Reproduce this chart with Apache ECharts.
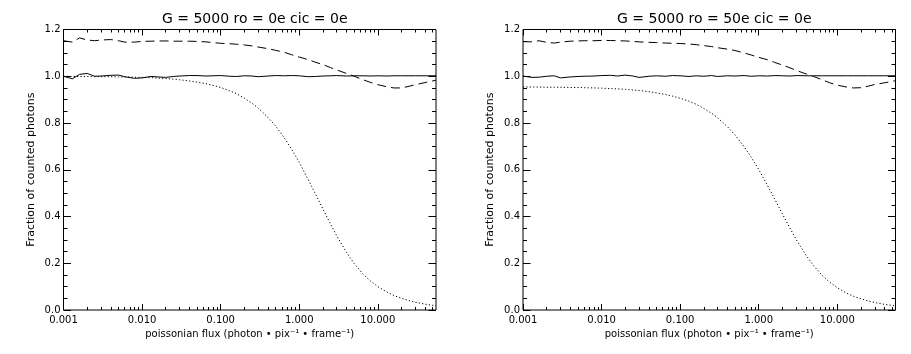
<!DOCTYPE html>
<html>
<head>
<meta charset="utf-8">
<script src="https://cdn.jsdelivr.net/npm/echarts@6/dist/echarts.min.js"></script>
<style>
  html, body { margin: 0; padding: 0; background: #fff; }
  #chart { width: 911px; height: 354px; }
</style>
</head>
<body>
<div id="chart"></div>
<script>
// poissonian flux sample points (photon / pix / frame)
const flux = [0.001, 0.0013, 0.0016, 0.002, 0.0025, 0.003, 0.004, 0.005, 0.006, 0.008,
  0.01, 0.013, 0.016, 0.02, 0.025, 0.03, 0.04, 0.05, 0.065, 0.08,
  0.1, 0.13, 0.16, 0.2, 0.25, 0.3, 0.4, 0.5, 0.65, 0.8,
  1, 1.3, 1.6, 2, 2.5, 3, 4, 5, 6.5, 8,
  10, 13, 16, 20, 25, 30, 40, 55];

// left panel: ro = 0e
const solidA = [1.000, 0.989, 1.008, 1.012, 1.000, 1.001, 1.004, 1.005, 0.998, 0.991,
  0.993, 0.999, 0.997, 0.995, 0.999, 1.001, 1.003, 1.003, 1.001, 1.002,
  1.003, 1.000, 0.999, 1.002, 1.001, 0.998, 1.001, 1.003, 1.002, 1.003,
  1.002, 0.998, 0.999, 1.001, 1.002, 1.003, 1.001, 1.002, 1.002, 1.001,
  1.002, 1.001, 1.002, 1.002, 1.002, 1.002, 1.002, 1.002];
const dashedA = [1.152, 1.146, 1.164, 1.155, 1.152, 1.155, 1.157, 1.152, 1.146, 1.146,
  1.149, 1.150, 1.151, 1.151, 1.150, 1.150, 1.150, 1.149, 1.147, 1.144,
  1.141, 1.139, 1.137, 1.134, 1.130, 1.125, 1.118, 1.111, 1.102, 1.092,
  1.082, 1.071, 1.060, 1.050, 1.037, 1.027, 1.012, 1.000, 0.985, 0.974,
  0.964, 0.955, 0.950, 0.950, 0.957, 0.964, 0.973, 0.983];
const dottedA = [1.000, 0.999, 0.999, 0.999, 0.998, 0.998, 0.998, 0.997, 0.997, 0.996,
  0.995, 0.994, 0.992, 0.990, 0.988, 0.985, 0.980, 0.975, 0.968, 0.961,
  0.952, 0.938, 0.925, 0.906, 0.885, 0.864, 0.824, 0.787, 0.735, 0.688,
  0.632, 0.558, 0.498, 0.432, 0.368, 0.317, 0.246, 0.199, 0.153, 0.125,
  0.100, 0.077, 0.062, 0.050, 0.040, 0.033, 0.025, 0.018];

// right panel: ro = 50e
const solidB = [1.001, 0.995, 0.996, 1.000, 1.002, 0.993, 0.997, 0.999, 1.000, 1.001,
  1.003, 1.004, 1.001, 1.005, 1.001, 0.995, 1.000, 1.002, 1.000, 1.003,
  1.002, 0.999, 1.002, 1.000, 1.003, 0.999, 1.002, 1.001, 1.003, 1.000,
  1.002, 1.001, 1.003, 1.002, 1.001, 1.003, 1.002, 1.002, 1.002, 1.002,
  1.002, 1.002, 1.002, 1.002, 1.002, 1.002, 1.002, 1.002];
const dashedB = [1.148, 1.147, 1.152, 1.145, 1.142, 1.146, 1.150, 1.151, 1.152, 1.152,
  1.153, 1.153, 1.152, 1.151, 1.149, 1.147, 1.145, 1.144, 1.142, 1.141,
  1.140, 1.138, 1.135, 1.131, 1.127, 1.122, 1.116, 1.110, 1.100, 1.091,
  1.081, 1.070, 1.059, 1.048, 1.036, 1.025, 1.010, 0.999, 0.984, 0.972,
  0.962, 0.954, 0.950, 0.951, 0.958, 0.965, 0.972, 0.981];
const dottedB = [0.954, 0.954, 0.954, 0.953, 0.953, 0.953, 0.952, 0.952, 0.951, 0.950,
  0.949, 0.947, 0.946, 0.944, 0.941, 0.939, 0.934, 0.929, 0.922, 0.915,
  0.906, 0.893, 0.880, 0.862, 0.842, 0.822, 0.784, 0.748, 0.699, 0.654,
  0.601, 0.531, 0.474, 0.411, 0.350, 0.301, 0.234, 0.189, 0.146, 0.119,
  0.095, 0.073, 0.059, 0.048, 0.038, 0.032, 0.024, 0.018];

const majorTicks = [0.001, 0.01, 0.1, 1, 10];
const minorTicks = [0.002, 0.003, 0.004, 0.005, 0.006, 0.007, 0.008, 0.009,
  0.02, 0.03, 0.04, 0.05, 0.06, 0.07, 0.08, 0.09,
  0.2, 0.3, 0.4, 0.5, 0.6, 0.7, 0.8, 0.9,
  2, 3, 4, 5, 6, 7, 8, 9, 20, 30, 40, 50];

const titles = ['G = 5000 ro = 0e cic = 0e', 'G = 5000 ro = 50e cic = 0e'];
const xName = 'poissonian flux (photon \u2022 pix\u207B\u00B9 \u2022 frame\u207B\u00B9)';
const yName = 'Fraction of counted photons';

const FONT = 'DejaVu Sans';
const INK = '#000';
const PLOT_LEFT = [63.5, 523];
const PLOT_W = 372.5;
const PLOT_TOP = 29.5;
const PLOT_H = 280.5;

const chart = echarts.init(document.getElementById('chart'));

const grids = [], xAxes = [], yAxes = [], series = [], titleOpts = [];
const panels = [
  { solid: solidA, dashed: dashedA, dotted: dottedA },
  { solid: solidB, dashed: dashedB, dotted: dottedB }
];

const txt = size => ({ fontFamily: FONT, fontSize: size, color: INK });

panels.forEach((p, i) => {
  grids.push({
    left: PLOT_LEFT[i], top: PLOT_TOP, width: PLOT_W, height: PLOT_H,
    show: true, borderColor: INK, borderWidth: 1, backgroundColor: 'transparent'
  });
  titleOpts.push({
    text: titles[i], left: PLOT_LEFT[i] + PLOT_W / 2, top: 7, textAlign: 'center',
    textStyle: Object.assign(txt(14), { fontWeight: 'normal' })
  });

  const logAxis = (position, ticks, len, extra) => Object.assign({
    type: 'log', logBase: 10, gridIndex: i, position: position,
    min: 0.001, max: 55,
    axisLine: { show: false }, splitLine: { show: false },
    axisTick: { inside: true, length: len, customValues: ticks, lineStyle: { color: INK } },
    axisLabel: { show: false }
  }, extra || {});

  xAxes.push(logAxis('bottom', majorTicks, 6, {
    axisLabel: Object.assign(txt(10), { customValues: majorTicks, margin: 5, formatter: v => v.toFixed(3) }),
    name: xName, nameLocation: 'middle', nameGap: 18, nameTextStyle: txt(10)
  }));
  xAxes.push(logAxis('bottom', minorTicks, 3));
  xAxes.push(logAxis('top', majorTicks, 6));
  xAxes.push(logAxis('top', minorTicks, 3));

  const valAxis = (position, extra) => Object.assign({
    type: 'value', gridIndex: i, position: position,
    min: 0, max: 1.2, interval: 0.2,
    axisLine: { show: false }, splitLine: { show: false },
    axisTick: { inside: true, length: 7.5, lineStyle: { color: INK } },
    minorTick: { show: true, splitNumber: 4, length: 4, lineStyle: { color: INK } },
    axisLabel: { show: false }
  }, extra || {});

  yAxes.push(valAxis('left', {
    axisLabel: Object.assign(txt(10), { margin: 3, formatter: v => v.toFixed(1) }),
    name: yName, nameLocation: 'middle', nameGap: 27, nameTextStyle: txt(11)
  }));
  yAxes.push(valAxis('right'));

  const styles = [
    { data: p.solid, type: 'solid' },
    { data: p.dashed, type: [9, 5] },
    { data: p.dotted, type: [1.2, 2.2] }
  ];
  styles.forEach(s => {
    series.push({
      type: 'line', xAxisIndex: i * 4, yAxisIndex: i * 2,
      data: flux.map((f, k) => [f, s.data[k]]),
      symbol: 'none', smooth: false,
      lineStyle: { color: INK, width: 1, type: s.type },
      silent: true
    });
  });
});

chart.setOption({
  animation: false,
  backgroundColor: '#fff',
  title: titleOpts,
  grid: grids,
  xAxis: xAxes,
  yAxis: yAxes,
  series: series
});
</script>
</body>
</html>
